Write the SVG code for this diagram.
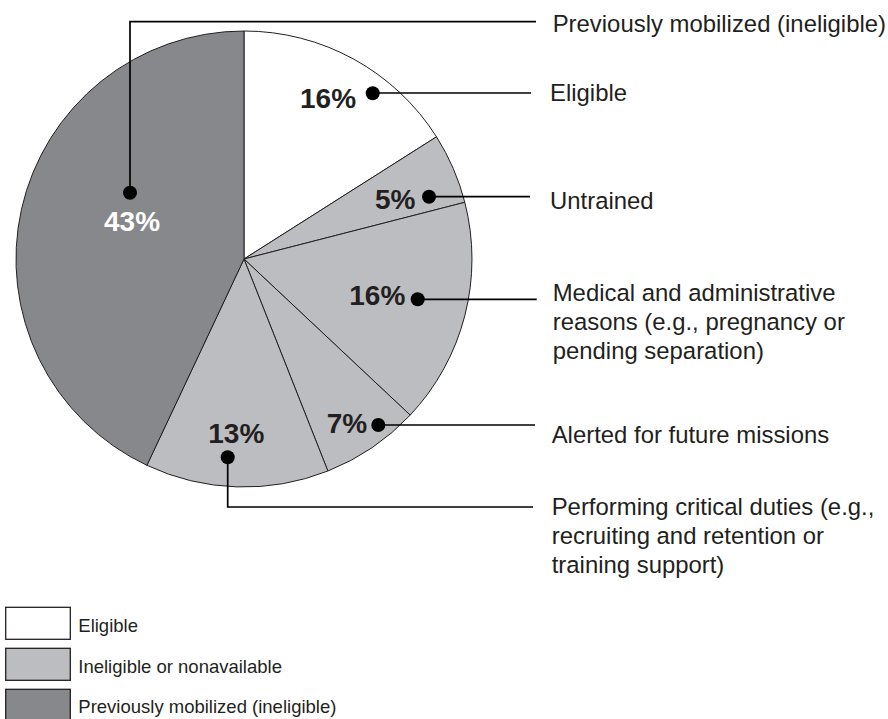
<svg xmlns="http://www.w3.org/2000/svg" width="888" height="719" viewBox="0 0 888 719">
<style>
.slice{stroke:#231f20;stroke-width:1;stroke-linejoin:round}
.w{fill:#ffffff}.l{fill:#bcbdc0}.d{fill:#87888b}
.pct{font-family:"Liberation Sans",Arial,sans-serif;font-weight:bold;font-size:28px;fill:#231f20}
.lbl{font-family:"Liberation Sans",Arial,sans-serif;font-size:23.9px;fill:#231f20}
.leg{font-family:"Liberation Sans",Arial,sans-serif;font-size:18.5px;fill:#231f20}
.ld{fill:none;stroke:#000;stroke-width:1.7}
.dot{fill:#000}
.box{stroke:#231f20;stroke-width:1.3}
</style>
<g id="pie">
<path id="s-eligible" class="slice w" d="M244,259 L244,31 A228,228 0 0 1 436.5,136.8 Z"/>
<path id="s-untrained" class="slice l" d="M244,259 L436.5,136.8 A228,228 0 0 1 464.8,202.3 Z"/>
<path id="s-medical" class="slice l" d="M244,259 L464.8,202.3 A228,228 0 0 1 410.2,415.1 Z"/>
<path id="s-alerted" class="slice l" d="M244,259 L410.2,415.1 A228,228 0 0 1 327.9,471.0 Z"/>
<path id="s-critical" class="slice l" d="M244,259 L327.9,471.0 A228,228 0 0 1 146.9,465.3 Z"/>
<path id="s-prev" class="slice d" d="M244,259 L146.9,465.3 A228,228 0 0 1 244,31 Z"/>
</g>
<g id="connectors">
<polyline class="ld" points="130,192.7 130,21.7 536,21.7"/>
<line class="ld" x1="372.7" y1="93" x2="531" y2="93"/>
<line class="ld" x1="429" y1="196.7" x2="530" y2="196.7"/>
<line class="ld" x1="417.7" y1="299.3" x2="536.7" y2="299.3"/>
<line class="ld" x1="378.3" y1="425" x2="535" y2="425"/>
<polyline class="ld" points="227.7,457.3 227.7,507 533,507"/>
<circle class="dot" cx="130" cy="192.7" r="7"/>
<circle class="dot" cx="372.7" cy="93.3" r="7"/>
<circle class="dot" cx="429" cy="196.7" r="7"/>
<circle class="dot" cx="417.7" cy="299.3" r="7"/>
<circle class="dot" cx="378.3" cy="425" r="7"/>
<circle class="dot" cx="227.7" cy="457.3" r="7"/>
</g>
<g id="node-prev">
<text class="pct" x="104" y="230.7" style="fill:#ffffff">43%</text>
<text class="lbl" x="552.7" y="32.3">Previously mobilized (ineligible)</text>
</g>
<g id="node-eligible">
<text class="pct" x="300" y="108.3">16%</text>
<text class="lbl" x="550" y="100.7">Eligible</text>
</g>
<g id="node-untrained">
<text class="pct" x="375" y="209.3">5%</text>
<text class="lbl" x="550" y="209.3">Untrained</text>
</g>
<g id="node-medical">
<text class="pct" x="349.3" y="305">16%</text>
<text class="lbl" x="552.7" y="300.7">Medical and administrative</text>
<text class="lbl" x="552.7" y="330">reasons (e.g., pregnancy or</text>
<text class="lbl" x="552.7" y="359.3">pending separation)</text>
</g>
<g id="node-alerted">
<text class="pct" x="326.7" y="432.7">7%</text>
<text class="lbl" x="551.7" y="442.7">Alerted for future missions</text>
</g>
<g id="node-critical">
<text class="pct" x="208.3" y="442.7">13%</text>
<text class="lbl" x="551.7" y="515">Performing critical duties (e.g.,</text>
<text class="lbl" x="551.7" y="544">recruiting and retention or</text>
<text class="lbl" x="551.7" y="573.3">training support)</text>
</g>
<g id="legend">
<rect class="box w" x="5.7" y="607.3" width="64.6" height="32"/>
<text class="leg" x="78.3" y="632.3">Eligible</text>
<rect class="box l" x="5.7" y="648.3" width="64.6" height="32"/>
<text class="leg" x="78.3" y="673.3">Ineligible or nonavailable</text>
<rect class="box d" x="5.7" y="689.3" width="64.6" height="32"/>
<text class="leg" x="78.3" y="713.3">Previously mobilized (ineligible)</text>
</g>
</svg>
